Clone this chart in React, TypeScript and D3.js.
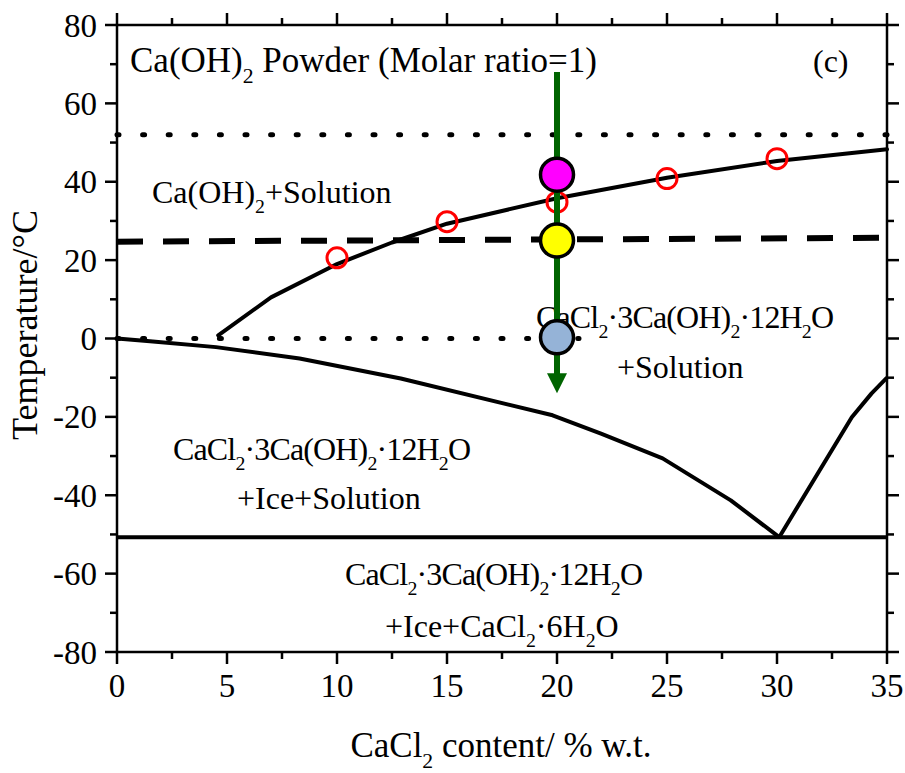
import React from "react";
import * as d3 from "d3";

// axis ticks
const xMajor = [0, 5, 10, 15, 20, 25, 30, 35];
const xMinor = [2.5, 7.5, 12.5, 17.5, 22.5, 27.5, 32.5];
const yMajor = [-80, -60, -40, -20, 0, 20, 40, 60, 80];
const yMinor = [-70, -50, -30, -10, 10, 30, 50, 70];

// Ca(OH)2 solubility curve
const solubilityCurve: [number, number][] = [
  [4.6, 0.8], [7, 10.5], [10, 19.0], [12.5, 24.5], [15, 29.3],
  [20, 35.8], [25, 41.0], [30, 45.3], [35, 48.3],
];
// ice liquidus
const iceCurve: [number, number][] = [
  [0, 0], [1.5, -0.7], [4.5, -2.2], [8.3, -5.1], [12.9, -10.2],
  [19.8, -19.6], [22, -24.3], [24.8, -30.6], [27.9, -41.3], [30.1, -50.7],
];
// CaCl2·6H2O liquidus
const hexaCurve: [number, number][] = [
  [30.1, -50.7], [33.4, -20.1], [34.3, -14], [35, -10],
];
const eutectic: [number, number][] = [[0, -50.7], [35, -50.7]];
const dashedLine: [number, number][] = [[0, 24.7], [35, 25.7]];
const dottedTop: [number, number][] = [[0, 52], [35, 52]];
const dottedZero: [number, number][] = [[0, 0], [21, 0]];

// measured points
const redPoints: [number, number][] = [
  [10, 20.6], [15, 29.8], [20, 34.8], [25, 40.8], [30, 45.9],
];
const bigPoints = [
  { x: 20, y: 41.8, fill: "#ff00ff" },
  { x: 20, y: 25, fill: "#ffff00" },
  { x: 20, y: 0.3, fill: "#95b3d7" },
];
const arrowX = 20;
const arrowFrom = 68;
const arrowTo = -14;

const FONT = "'Liberation Serif', 'Times New Roman', serif";

function Chem({ text, x, y, size = 32, anchor = "start", spacing = 0 }: { text: string; x: number; y: number; size?: number; anchor?: string; spacing?: number }) {
  // "_2" marks a subscript character
  const parts: { t: string; sub: boolean }[] = [];
  let buf = "";
  for (let i = 0; i < text.length; i++) {
    if (text[i] === "_") {
      if (buf) parts.push({ t: buf, sub: false });
      buf = "";
      parts.push({ t: text[i + 1], sub: true });
      i++;
    } else buf += text[i];
  }
  if (buf) parts.push({ t: buf, sub: false });
  const shift = size * 0.3;
  let down = false;
  return (
    <text x={x} y={y} fontSize={size} fontFamily={FONT} textAnchor={anchor} fill="#000" letterSpacing={spacing}>
      {parts.map((p, i) => {
        let dy = 0;
        if (p.sub && !down) { dy = shift; down = true; }
        else if (!p.sub && down) { dy = -shift; down = false; }
        return (
          <tspan key={i} dy={dy} fontSize={p.sub ? size * 0.62 : size}>{p.t}</tspan>
        );
      })}
    </text>
  );
}

export default function App() {
  const left = 117, right = 887, top = 25, bottom = 652;
  const x = d3.scaleLinear().domain([0, 35]).range([left, right]);
  const y = d3.scaleLinear().domain([-80, 80]).range([bottom, top]);
  const line = d3.line<[number, number]>().x(d => x(d[0])).y(d => y(d[1]));

  return (
    <svg width={905} height={773} style={{ position: "absolute", left: 0, top: 0, background: "#fff" }}>
      {/* reference lines */}
      <path d={line(dottedTop) || ""} stroke="#000" strokeWidth={5} strokeLinecap="round" strokeDasharray="2 23.6" fill="none" />
      <path d={line(dottedZero) || ""} stroke="#000" strokeWidth={5} strokeLinecap="round" strokeDasharray="2 23.6" fill="none" />
      <path d={line(dashedLine) || ""} stroke="#000" strokeWidth={6} strokeDasharray="26 20" fill="none" />

      {/* phase boundaries */}
      <path d={line(solubilityCurve) || ""} stroke="#000" strokeWidth={4} fill="none" strokeLinejoin="round" strokeLinecap="round" />
      <path d={line(iceCurve) || ""} stroke="#000" strokeWidth={4} fill="none" strokeLinejoin="round" />
      <path d={line(hexaCurve) || ""} stroke="#000" strokeWidth={4} fill="none" strokeLinejoin="round" />
      <path d={line(eutectic) || ""} stroke="#000" strokeWidth={4} fill="none" />

      {/* region labels */}
      <Chem text="Ca(OH)_2 Powder (Molar ratio=1)" x={130} y={72} size={35} />
      <text x={813} y={72} fontSize={32} fontFamily={FONT}>(c)</text>
      <Chem text="Ca(OH)_2+Solution" x={152} y={203} />
      <Chem text="CaCl_2·3Ca(OH)_2·12H_2O" x={536} y={328} spacing={-0.85} />
      <Chem text="+Solution" x={617} y={378} />
      <Chem text="CaCl_2·3Ca(OH)_2·12H_2O" x={173} y={460} spacing={-0.85} />
      <Chem text="+Ice+Solution" x={237} y={509} />
      <Chem text="CaCl_2·3Ca(OH)_2·12H_2O" x={345} y={585} spacing={-0.85} />
      <Chem text="+Ice+CaCl_2·6H_2O" x={385} y={637} />

      {/* measured points */}
      {redPoints.map((d, i) => (
        <circle key={i} cx={x(d[0])} cy={y(d[1])} r={10} fill="none" stroke="#ff0000" strokeWidth={3} />
      ))}

      {/* cooling path */}
      <line x1={x(arrowX)} x2={x(arrowX)} y1={y(arrowFrom)} y2={y(arrowTo) - 16} stroke="#006400" strokeWidth={6} />
      <path
        d={`M${x(arrowX) - 10},${y(arrowTo) - 20} L${x(arrowX) + 10},${y(arrowTo) - 20} L${x(arrowX)},${y(arrowTo)} Z`}
        fill="#006400"
      />
      {bigPoints.map((d, i) => (
        <circle key={i} cx={x(d.x)} cy={y(d.y)} r={16.5} fill={d.fill} stroke="#000" strokeWidth={3.5} />
      ))}

      {/* frame */}
      <rect x={left} y={top} width={right - left} height={bottom - top} fill="none" stroke="#000" strokeWidth={2.5} />
      {xMajor.map(v => (
        <g key={"xm" + v}>
          <line x1={x(v)} x2={x(v)} y1={bottom} y2={bottom + 12} stroke="#000" strokeWidth={2.5} />
          <line x1={x(v)} x2={x(v)} y1={top} y2={top - 12} stroke="#000" strokeWidth={2.5} />
          <text x={x(v)} y={697} textAnchor="middle" fontSize={33} fontFamily={FONT}>{v}</text>
        </g>
      ))}
      {xMinor.map(v => (
        <g key={"xn" + v}>
          <line x1={x(v)} x2={x(v)} y1={bottom} y2={bottom + 7} stroke="#000" strokeWidth={2.5} />
          <line x1={x(v)} x2={x(v)} y1={top} y2={top - 7} stroke="#000" strokeWidth={2.5} />
        </g>
      ))}
      {yMajor.map(v => (
        <g key={"ym" + v}>
          <line x1={left} x2={left - 12} y1={y(v)} y2={y(v)} stroke="#000" strokeWidth={2.5} />
          <line x1={right} x2={right + 12} y1={y(v)} y2={y(v)} stroke="#000" strokeWidth={2.5} />
          <text x={97} y={y(v)} dy="0.35em" textAnchor="end" fontSize={33} fontFamily={FONT}>{v}</text>
        </g>
      ))}
      {yMinor.map(v => (
        <g key={"yn" + v}>
          <line x1={left} x2={left - 7} y1={y(v)} y2={y(v)} stroke="#000" strokeWidth={2.5} />
          <line x1={right} x2={right + 7} y1={y(v)} y2={y(v)} stroke="#000" strokeWidth={2.5} />
        </g>
      ))}

      {/* axis titles */}
      <Chem text="CaCl_2 content/ % w.t." x={501} y={757} anchor="middle" size={35} />
      <text transform="translate(37,325) rotate(-90)" textAnchor="middle" fontSize={36} fontFamily={FONT}>Temperature/°C</text>
    </svg>
  );
}
